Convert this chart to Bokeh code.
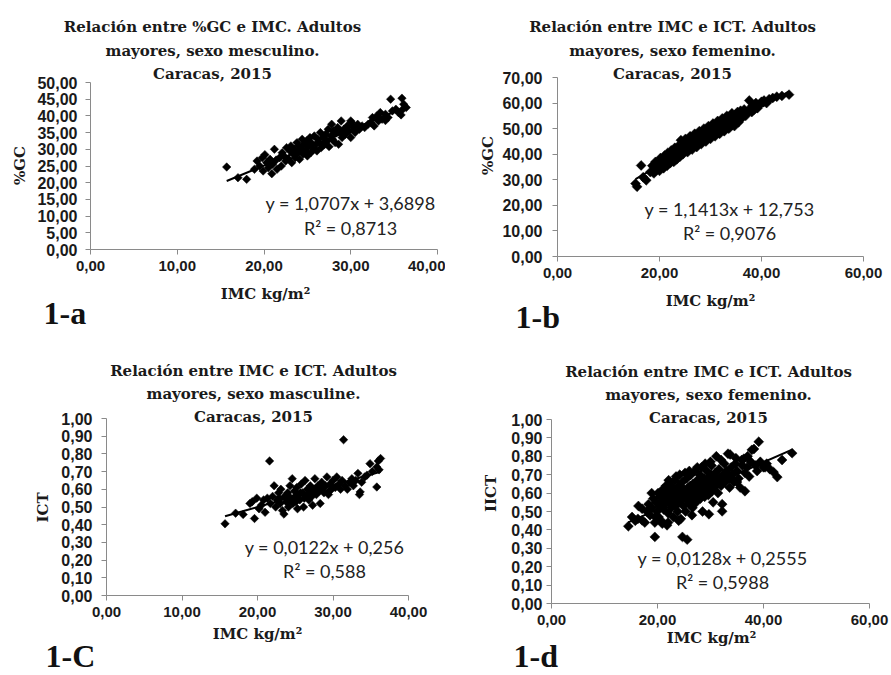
from bokeh.plotting import figure
from bokeh.models import Range1d, FixedTicker, Label
from bokeh.layouts import column, row
from bokeh.embed import file_html
from bokeh.resources import INLINE

# ---------------- data ----------------
a_pts = [(15.7,24.7),(17.0,21.5),(18.0,21.0),(18.9,24.0),(19.2,26.5),(19.5,25.0),(19.8,27.5),(19.9,23.5),(20.1,28.4),(20.3,26.0),
 (20.5,24.5),(20.7,27.0),(20.9,22.7),(21.0,25.5),(21.2,30.0),(21.4,26.8),(21.5,24.0),(21.8,27.5),(22.0,25.0),(22.1,29.0),
 (22.3,28.0),(22.5,26.5),(22.6,30.5),(22.8,27.2),(23.0,29.5),(23.1,31.0),(23.2,26.0),(23.4,28.5),(23.5,30.0),(23.6,27.5),
 (23.8,32.0),(23.9,29.0),(24.0,31.0),(24.1,27.0),(24.3,30.2),(24.4,33.0),(24.5,28.5),(24.6,31.5),(24.8,29.5),(24.9,32.5),
 (25.0,28.0),(25.1,30.8),(25.3,33.5),(25.4,29.0),(25.5,31.8),(25.7,30.0),(25.8,34.0),(26.0,31.5),(26.1,29.5),(26.2,33.0),
 (26.4,32.0),(26.5,35.0),(26.6,30.5),(26.8,33.5),(27.0,31.5),(27.1,34.5),(27.3,32.5),(27.4,36.0),(27.5,30.8),(27.7,34.0),
 (27.8,37.5),(27.9,33.0),(28.0,35.5),(28.2,32.0),(28.3,34.8),(28.5,36.5),(28.6,31.5),(28.8,35.0),(28.9,38.5),(29.0,33.5),
 (29.2,36.0),(29.4,34.5),(29.6,37.0),(29.8,35.5),(30.0,33.5),(30.0,38.5),(30.1,38.0),(30.3,36.5),(30.5,35.0),(30.8,37.5),
 (31.0,36.0),(31.3,37.0),(31.6,36.5),(32.0,37.5),(32.3,38.0),(32.5,39.5),(32.7,37.0),(33.0,40.0),(33.2,38.5),(33.4,41.0),
 (33.6,39.0),(34.0,40.5),(34.0,38.6),(34.3,39.5),(34.6,45.0),(34.8,41.5),(35.2,42.0),(35.5,41.0),(35.9,45.3),(35.8,40.3),
 (36.1,43.5),(36.4,42.5),(36.0,42.0)]

b_pts = [(15.3,28.5),(15.6,27.3),(16.4,35.6),(17.4,29.8),(16.8,31.0),(18.2,33.0),(18.6,35.5),(18.9,32.5),(19.2,37.0),(19.5,34.0),
 (19.8,36.0),(20.0,33.5),(20.2,38.5),(20.4,35.5),(20.6,37.0),(20.8,34.5),(21.0,39.5),(21.1,36.5),(21.3,38.0),(21.5,35.5),
 (21.6,40.5),(21.8,37.5),(22.0,39.0),(22.1,36.5),(22.3,41.5),(22.5,38.0),(22.6,40.0),(22.8,37.0),(23.0,42.5),(23.1,39.5),
 (23.3,41.0),(23.4,38.0),(23.6,43.0),(23.7,40.0),(23.9,41.8),(24.0,39.0),(24.2,45.5),(24.3,41.0),(24.5,43.0),(24.6,40.0),
 (24.8,44.5),(24.9,42.0),(25.1,46.0),(25.2,41.5),(25.4,43.5),(25.5,40.8),(25.7,45.0),(25.8,42.5),(26.0,47.0),(26.1,43.0),
 (26.3,44.5),(26.4,41.8),(26.6,46.5),(26.7,44.0),(26.9,48.0),(27.0,43.5),(27.2,45.5),(27.3,42.8),(27.5,47.5),(27.6,45.0),
 (27.8,49.0),(27.9,44.5),(28.1,46.5),(28.2,44.0),(28.4,48.5),(28.5,46.0),(28.7,50.0),(28.8,45.5),(29.0,47.5),(29.1,45.0),
 (29.3,49.5),(29.4,47.0),(29.6,51.0),(29.7,46.5),(29.9,48.5),(30.0,46.0),(30.2,50.5),(30.3,48.0),(30.5,52.0),(30.6,47.5),
 (30.8,49.5),(30.9,47.0),(31.1,51.5),(31.2,49.0),(31.4,53.0),(31.5,48.5),(31.7,50.5),(31.8,48.0),(32.0,52.5),(32.1,50.0),
 (32.3,54.0),(32.4,49.5),(32.6,51.5),(32.7,49.0),(32.9,53.5),(33.0,51.0),(33.2,55.0),(33.3,50.5),(33.5,52.5),(33.6,50.0),
 (33.8,54.5),(34.0,52.0),(34.2,56.0),(34.3,51.5),(34.5,53.5),(34.7,51.0),(34.9,55.5),(35.1,53.0),(35.3,56.5),(35.5,52.5),
 (35.7,54.5),(35.9,57.0),(36.1,54.0),(36.3,55.5),(36.6,57.5),(36.9,55.0),(37.2,56.5),(37.6,61.0),(37.8,58.0),(38.1,56.5),
 (38.3,59.0),(38.6,57.5),(38.9,60.0),(39.2,58.0),(39.6,59.5),(40.0,60.5),(40.5,61.0),(41.0,60.0),(41.5,61.5),(42.2,62.0),
 (43.0,62.5),(44.0,62.8),(45.4,63.3),(20.5,36.0),(21.7,38.0),(22.4,39.0),(23.5,40.5),(24.4,42.0),(25.6,42.5),(26.5,43.5),
 (27.4,44.5),(28.3,45.5),(29.5,46.5),(30.4,48.0),(31.6,49.5),(32.5,50.5),(33.4,51.5),(34.4,52.5),(19.0,35.0),(22.9,40.5),
 (26.8,45.5),(28.9,47.0),(31.0,48.5)]

c_pts = [(15.7,0.405),(17.1,0.465),(18.1,0.458),(19.0,0.52),(19.3,0.53),(19.6,0.435),(19.9,0.55),(20.2,0.49),(20.5,0.51),(20.8,0.54),
 (21.0,0.47),(21.3,0.55),(21.6,0.76),(21.7,0.52),(22.0,0.56),(22.2,0.62),(22.4,0.50),(22.6,0.54),(22.8,0.58),(23.0,0.52),
 (23.1,0.60),(23.3,0.48),(23.5,0.46),(23.6,0.56),(23.8,0.53),(24.0,0.58),(24.1,0.50),(24.3,0.62),(24.4,0.55),(24.6,0.66),
 (24.7,0.52),(24.9,0.59),(25.0,0.56),(25.2,0.61),(25.3,0.49),(25.5,0.57),(25.6,0.54),(25.8,0.63),(26.0,0.58),(26.1,0.50),
 (26.3,0.65),(26.4,0.56),(26.6,0.60),(26.8,0.54),(27.0,0.62),(27.1,0.58),(27.3,0.51),(27.5,0.60),(27.6,0.66),(27.8,0.57),
 (28.0,0.62),(28.2,0.59),(28.3,0.52),(28.5,0.64),(28.6,0.60),(28.8,0.58),(29.0,0.62),(29.2,0.67),(29.4,0.57),(29.6,0.63),
 (29.8,0.60),(30.0,0.65),(30.3,0.61),(30.5,0.67),(30.8,0.63),(31.0,0.60),(31.2,0.65),(31.4,0.88),(31.6,0.62),(31.9,0.60),
 (32.2,0.64),(32.5,0.66),(32.7,0.62),(33.0,0.65),(33.3,0.69),(33.5,0.57),(33.6,0.585),(33.8,0.64),(34.2,0.67),(34.5,0.68),
 (34.9,0.745),(35.2,0.70),(35.8,0.613),(35.8,0.726),(36.1,0.71),(36.3,0.774),(36.0,0.76),(22.9,0.55),(23.9,0.57),(24.8,0.55),
 (25.7,0.58),(26.7,0.57),(27.7,0.59),(28.7,0.61),(29.5,0.59),(26.2,0.55),(25.1,0.53),(27.2,0.56),(24.2,0.54)]

d_pts = [(14.5,0.42),(15.2,0.47),(15.8,0.45),(16.3,0.46),(17.1,0.515),(17.1,0.452),(17.6,0.44),(18.0,0.50),(18.3,0.54),(18.6,0.48),
 (18.9,0.52),(19.2,0.57),(19.5,0.362),(19.5,0.44),(19.7,0.55),(19.9,0.50),(20.1,0.60),(20.2,0.47),(20.4,0.53),(20.5,0.58),
 (20.7,0.45),(20.9,0.434),(20.9,0.56),(21.0,0.62),(21.2,0.51),(21.3,0.59),(21.5,0.54),(21.6,0.64),(21.8,0.425),(21.8,0.57),
 (22.0,0.49),(22.1,0.61),(22.3,0.55),(22.4,0.66),(22.6,0.52),(22.7,0.59),(22.9,0.63),(23.0,0.47),(23.1,0.56),(23.3,0.67),
 (23.4,0.53),(23.5,0.61),(23.7,0.58),(23.8,0.50),(24.0,0.64),(24.1,0.55),(24.3,0.60),(24.4,0.46),(24.6,0.57),(24.7,0.362),
 (24.7,0.66),(24.9,0.53),(25.0,0.62),(25.2,0.59),(25.3,0.50),(25.5,0.68),(25.6,0.347),(25.6,0.56),(25.8,0.63),(26.0,0.54),
 (26.1,0.60),(26.3,0.70),(26.4,0.57),(26.6,0.52),(26.7,0.65),(26.9,0.61),(27.0,0.72),(27.2,0.58),(27.3,0.55),(27.5,0.67),
 (27.6,0.63),(27.8,0.60),(28.0,0.70),(28.1,0.57),(28.3,0.74),(28.4,0.64),(28.6,0.61),(28.8,0.68),(28.9,0.58),(29.1,0.66),
 (29.3,0.72),(29.4,0.62),(29.6,0.59),(29.7,0.485),(29.8,0.69),(30.0,0.65),(30.2,0.75),(30.3,0.61),(30.5,0.68),(30.7,0.63),
 (30.9,0.71),(31.1,0.80),(31.2,0.66),(31.4,0.60),(31.6,0.73),(31.8,0.68),(32.0,0.64),(32.2,0.501),(32.2,0.54),(32.4,0.70),
 (32.6,0.76),(32.8,0.66),(33.0,0.72),(33.3,0.814),(33.4,0.68),(33.6,0.63),(33.9,0.74),(34.1,0.70),(34.4,0.66),(34.7,0.76),
 (35.0,0.72),(35.3,0.68),(35.6,0.63),(35.9,0.78),(36.3,0.787),(36.5,0.71),(36.9,0.74),(37.3,0.69),(37.6,0.77),(38.2,0.84),
 (38.5,0.75),(39.1,0.879),(39.4,0.77),(40.0,0.74),(40.6,0.76),(41.2,0.73),(41.9,0.714),(42.6,0.687),(43.5,0.78),(45.4,0.817),
 (20.8,0.54),(21.4,0.56),(22.2,0.58),(22.8,0.55),(23.6,0.60),(24.2,0.58),(24.8,0.61),(25.4,0.60),(25.9,0.58),(26.5,0.62),
 (27.1,0.60),(27.7,0.64),(28.2,0.62),(28.7,0.64),(29.2,0.63),(29.9,0.67),(30.4,0.64),(31.0,0.69),(31.5,0.67),(32.1,0.68),
 (23.2,0.62),(24.5,0.63),(26.2,0.64),(27.4,0.66),(28.5,0.66),(30.1,0.70),(33.2,0.70),(34.0,0.68),(21.1,0.58),(22.5,0.60),
 (25.2,0.71),(22.1,0.67),(18.9,0.60),(16.4,0.53),(23.5,0.69),(24.2,0.70),(26.0,0.72),(27.5,0.74),(29.0,0.76),(30.0,0.77),
 (32.0,0.78),(33.7,0.81),(37.8,0.835),(40.3,0.74),(36.0,0.75),(34.8,0.79),(28.5,0.50),(24.0,0.45),(30.5,0.55),(36.5,0.61),
 (35.0,0.66),(38.8,0.72),(37.0,0.80),(19.6,0.47),(22.0,0.44),(26.5,0.48)]

# regression coefficients (slope, intercept) as printed on the chart
a_fit = (1.0707, 3.6898)
b_fit = (1.1413, 12.753)
c_fit = (0.0122, 0.256)
d_fit = (0.0128, 0.2555)

# axis ticks and labels
x40_ticks = [0, 10, 20, 30, 40]
x40_labels = ["0,00", "10,00", "20,00", "30,00", "40,00"]
x60_ticks = [0, 20, 40, 60]
x60_labels = ["0,00", "20,00", "40,00", "60,00"]
ya_ticks = [0, 5, 10, 15, 20, 25, 30, 35, 40, 45, 50]
ya_labels = ["0,00", "5,00", "10,00", "15,00", "20,00", "25,00", "30,00", "35,00", "40,00", "45,00", "50,00"]
yb_ticks = [0, 10, 20, 30, 40, 50, 60, 70]
yb_labels = ["0,00", "10,00", "20,00", "30,00", "40,00", "50,00", "60,00", "70,00"]
yc_ticks = [0.0, 0.1, 0.2, 0.3, 0.4, 0.5, 0.6, 0.7, 0.8, 0.9, 1.0]
yc_labels = ["0,00", "0,10", "0,20", "0,30", "0,40", "0,50", "0,60", "0,70", "0,80", "0,90", "1,00"]

titles_a = ["Relación entre %GC e IMC. Adultos", "mayores, sexo mesculino.", "Caracas, 2015"]
titles_b = ["Relación entre IMC e ICT. Adultos", "mayores, sexo femenino.", "Caracas, 2015"]
titles_c = ["Relación entre IMC e ICT. Adultos", "mayores, sexo masculine.", "Caracas, 2015"]
titles_d = ["Relación entre IMC e ICT. Adultos", "mayores, sexo femenino.", "Caracas, 2015"]

SERIF = "DejaVu Serif"
TXT = "#1a1a1a"


def make_panel(spec):
    ox, oy, w, h = spec["fig"]          # figure box in page px
    L, T, W, H = spec["area"]           # plotting area (axes box) in page px
    (x0, x1), (y0, y1) = spec["xd"], spec["yd"]
    kx = W / (x1 - x0)
    ky = H / (y1 - y0)
    xr = (x0 - (L - ox) / kx, x1 + (ox + w - (L + W)) / kx)
    yr = (y0 - (oy + h - (T + H)) / ky, y1 + (T - oy) / ky)

    p = figure(width=w, height=h, x_range=Range1d(*xr), y_range=Range1d(*yr),
               output_backend="svg", toolbar_location=None,
               min_border_left=0, min_border_right=0, min_border_top=0, min_border_bottom=0)
    p.xgrid.visible = False
    p.ygrid.visible = False
    p.outline_line_color = None
    p.background_fill_color = "white"
    p.border_fill_color = "white"

    for ax, ticks, labels, fs, bnd, loc in [
            (p.xaxis[0], spec["xt"], spec["xl"], "15px", (x0, x1), y0),
            (p.yaxis[0], spec["yt"], spec["yl"], "16px", (y0, y1), x0)]:
        ax.ticker = FixedTicker(ticks=ticks)
        ax.major_label_overrides = {t: l for t, l in zip(ticks, labels)}
        ax.bounds = bnd
        ax.fixed_location = loc
        ax.axis_line_color = "#8a8a8a"
        ax.major_tick_line_color = "#8a8a8a"
        ax.major_tick_out = 5
        ax.major_tick_in = 0
        ax.minor_tick_line_color = None
        ax.major_label_text_font = "Liberation Sans"
        ax.major_label_text_font_style = "bold"
        ax.major_label_text_font_size = fs
        ax.major_label_text_color = "#1a1a1a"
    p.xaxis[0].major_label_standoff = 6
    p.yaxis[0].major_label_standoff = spec["ystand"]

    pts = spec["pts"]
    xs = [q[0] for q in pts]
    ys = [q[1] for q in pts]
    p.scatter(xs, ys, marker="square", size=spec["msize"], angle=0.785398,
              fill_color="black", line_color="black", line_width=0.5)
    s, i = spec["fit"]
    xa, xb = min(xs), max(xs)
    p.line([xa, xb], [s * xa + i, s * xb + i], line_color="black", line_width=2)

    def lab(px, py, text, font, size, style="normal", align="center", angle=0.0, color=TXT):
        dx = xr[0] + (px - ox) / kx
        dy = yr[1] - (py - oy) / ky
        p.add_layout(Label(x=dx, y=dy, text=text, text_font=font, text_font_size=size,
                           text_font_style=style, text_align=align, text_baseline="middle",
                           angle=angle, text_color=color))

    tx, tys = spec["title_pos"]
    for t, ty in zip(spec["titles"], tys):
        lab(tx, ty, t, SERIF, "15px", "bold")
    ylx, yly = spec["ylab_pos"]
    lab(ylx, yly, spec["ylab"], SERIF, "15px", "bold", angle=1.5707963)
    xlx, xly = spec["xlab_pos"]
    lab(xlx, xly, "IMC kg/m²", SERIF, "15px", "bold")
    ex, ey1, ey2 = spec["eq_pos"]
    lab(ex, ey1, spec["eq"], "Lato", "18px", color="#222222")
    lab(ex, ey2, spec["r2"], "Lato", "18px", color="#222222")
    gx, gy = spec["tag_pos"]
    lab(gx, gy, spec["tag"], "Liberation Serif", "32px", "bold", align="left", color="#111111")
    return p


specs = [
    dict(fig=(0, 0, 445, 340), area=(90, 82, 347, 167), xd=(0, 40), yd=(0, 50), pts=a_pts, fit=a_fit, msize=6,
         xt=x40_ticks, xl=x40_labels, yt=ya_ticks, yl=ya_labels, ystand=8,
         titles=titles_a, title_pos=(212, [26, 50, 73]), ylab="%GC", ylab_pos=(19, 165),
         xlab_pos=(265, 293), eq="y = 1,0707x + 3,6898", r2="R² = 0,8713", eq_pos=(350, 202, 227),
         tag="1-a", tag_pos=(43, 312)),
    dict(fig=(445, 0, 445, 340), area=(557, 77, 306, 179), xd=(0, 60), yd=(0, 70), pts=b_pts, fit=b_fit, msize=7,
         xt=x60_ticks, xl=x60_labels, yt=yb_ticks, yl=yb_labels, ystand=10,
         titles=titles_b, title_pos=(672, [26, 50, 73]), ylab="%GC", ylab_pos=(487, 155),
         xlab_pos=(710, 300), eq="y = 1,1413x + 12,753", r2="R² = 0,9076", eq_pos=(729, 208, 232),
         tag="1-b", tag_pos=(515, 316)),
    dict(fig=(0, 340, 445, 335), area=(106, 418, 302, 177), xd=(0, 40), yd=(0, 1), pts=c_pts, fit=c_fit, msize=6,
         xt=x40_ticks, xl=x40_labels, yt=yc_ticks, yl=yc_labels, ystand=9,
         titles=titles_c, title_pos=(253, [370, 393, 416]), ylab="ICT", ylab_pos=(42, 507),
         xlab_pos=(257, 633), eq="y = 0,0122x + 0,256", r2="R² = 0,588", eq_pos=(324, 546, 570),
         tag="1-C", tag_pos=(45, 655)),
    dict(fig=(445, 340, 445, 335), area=(551, 419, 318, 184), xd=(0, 60), yd=(0, 1), pts=d_pts, fit=d_fit, msize=7,
         xt=x60_ticks, xl=x60_labels, yt=yc_ticks, yl=yc_labels, ystand=4,
         titles=titles_d, title_pos=(708, [371, 394, 417]), ylab="IICT", ylab_pos=(490, 493),
         xlab_pos=(711, 637), eq="y = 0,0128x + 0,2555", r2="R² = 0,5988", eq_pos=(722, 557, 581),
         tag="1-d", tag_pos=(513, 655)),
]

pa, pb, pc, pd = [make_panel(s) for s in specs]
layout = column(row(pa, pb), row(pc, pd))

open("out.html", "w").write(file_html(layout, INLINE))
